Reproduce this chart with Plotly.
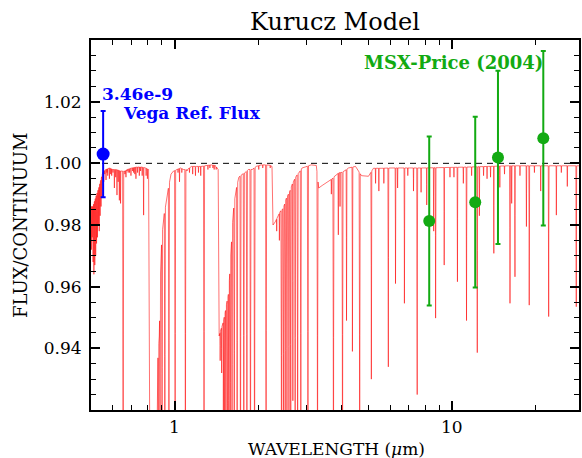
import numpy as np
import plotly.graph_objects as go

# ---------------- data ----------------
# pseudo-continuum of the Kurucz model (wavelength in micron, flux/continuum)
cont_wl = [0.4993, 0.5076, 0.5160, 0.5245, 0.5333, 0.5422, 0.5511, 0.5650, 0.5839, 0.5986,
           0.6137, 0.6265, 0.6396, 0.6641, 0.6753, 0.7006, 0.7303, 0.7612, 0.7866, 0.8063,
           0.8152, 0.8617, 0.8689, 0.8811, 0.8935, 0.9115, 0.9344, 0.9461, 0.9714, 0.9918,
           1.0209, 1.0509, 1.0773, 1.1135, 1.1511, 1.1996, 1.2503, 1.3030, 1.3580, 1.4037,
           1.4366, 1.4486, 1.4691, 1.4936, 1.5186, 1.5440, 1.5620, 1.5789, 1.6000, 1.6267,
           1.6607, 1.7053, 1.7554, 1.7995, 1.8447, 1.9067, 1.9704, 2.0538, 2.1943, 2.2458,
           2.2645, 2.3061, 2.3641, 2.4095, 2.4497, 2.4886, 2.5238, 2.5638, 2.6066, 2.6501,
           2.6965, 2.7506, 2.8127, 2.8834, 2.9560, 3.1075, 3.2439, 3.3090, 3.4034, 3.5176,
           3.6359, 3.7027, 3.7895, 3.8591, 3.9235, 3.9858, 4.1000, 4.2381, 4.4907, 4.7193,
           5.0006, 5.2120, 5.5895, 6.0220, 6.5421, 7.0469, 7.9124, 8.9595, 10.141, 11.482,
           13.548, 15.985, 19.662, 24.175, 29.010]
cont_fx = [0.986, 0.986, 0.988, 0.990, 0.992, 0.9945, 0.997, 0.998, 0.9985, 0.998,
           0.998, 0.9978, 0.9975, 0.9975, 0.998, 0.9985, 0.9988, 0.9988, 0.9985, 0.998,
           0.900, 0.900, 0.935, 0.944, 0.971, 0.982, 0.9875, 0.991, 0.9965, 0.9975,
           0.998, 0.9985, 0.998, 0.998, 0.999, 0.999, 0.999, 0.9993, 0.9995, 0.9993,
           0.998, 0.944, 0.946, 0.948, 0.951, 0.955, 0.957, 0.963, 0.9725, 0.984,
           0.9908, 0.9955, 0.9965, 0.997, 0.998, 0.998, 0.999, 0.9995, 0.9995, 0.999,
           0.980, 0.981, 0.983, 0.9845, 0.985, 0.9865, 0.9885, 0.9897, 0.991, 0.993,
           0.9945, 0.996, 0.997, 0.9985, 0.9988, 0.9995, 0.9993, 0.992, 0.9928, 0.9937,
           0.9945, 0.995, 0.996, 0.9965, 0.997, 0.997, 0.9975, 0.9985, 0.999, 0.996,
           0.9958, 0.9984, 0.9984, 0.9985, 0.9985, 0.9985, 0.9985, 0.9986, 0.9987, 0.9988,
           0.999, 0.9992, 0.9992, 0.9992, 0.9992]

# absorption lines: centre wavelength (micron) and minimum flux/continuum
line_wl = [0.5017, 0.5050, 0.5088, 0.5122, 0.5160, 0.5198, 0.5236, 0.5275, 0.5315, 0.5354,
           0.5394, 0.5435, 0.5475, 0.5557, 0.5604, 0.5664, 0.5707, 0.5745, 0.5826, 0.5888,
           0.5937, 0.6001, 0.6071, 0.6137, 0.6203, 0.6265, 0.6327, 0.6390, 0.6530, 0.6625,
           0.6684, 0.6741, 0.6806, 0.6883, 0.6966, 0.7064, 0.7123, 0.7193, 0.7260, 0.7360,
           0.7467, 0.7545, 0.7646, 0.7738, 0.7900, 0.7985, 0.8746, 0.8869, 0.9017, 0.9229,
           0.9547, 1.0050, 1.0294, 1.0422, 1.0623, 1.0943, 1.1089, 1.1320, 1.1626, 1.1898,
           1.2197, 1.2430, 1.2775, 1.3193, 1.3413, 1.3751, 1.3897, 1.4130, 1.4606, 1.4789,
           1.4999, 1.5161, 1.5325, 1.5530, 1.5698, 1.5882, 1.6120, 1.6416, 1.6815, 1.7295,
           1.7774, 1.8234, 1.8786, 1.9434, 2.0122, 2.0797, 2.1388, 2.2126, 2.3349, 2.3878,
           2.4295, 2.4681, 2.5050, 2.5426, 2.5851, 2.6239, 2.6701, 2.7213, 2.7782, 2.8526,
           3.0262, 3.2763, 3.6751, 3.7396, 3.8944, 3.9494, 4.0320, 4.1685, 4.3774, 4.6495,
           5.1220, 5.3047, 5.4517, 5.6819, 5.8976, 6.2591, 6.3687, 6.7393, 6.9316, 7.2667,
           7.4929, 7.7388, 8.1104, 8.5937, 8.7299, 9.3753, 9.8356, 10.167, 10.466, 10.990,
           11.285, 11.771, 12.338, 12.555, 12.999, 13.381, 13.774, 14.155, 14.876, 15.466,
           16.186, 16.415, 16.869, 17.582, 18.553, 18.988, 19.823, 20.883, 22.315, 23.781,
           24.784, 26.046, 28.058]
line_min = [0.972, 0.976, 0.968, 0.964, 0.967, 0.970, 0.974, 0.976, 0.980, 0.978,
            0.983, 0.986, 0.989, 0.994, 0.9965, 0.9946, 0.997, 0.996, 0.995, 0.9965,
            0.996, 0.997, 0.992, 0.9955, 0.9897, 0.994, 0.988, 0.987, 0.880, 0.9965,
            0.9955, 0.9975, 0.997, 0.997, 0.996, 0.9975, 0.997, 0.9965, 0.995, 0.997,
            0.996, 0.9975, 0.996, 0.9832, 0.996, 0.995, 0.880, 0.880, 0.880, 0.880,
            0.880, 0.880, 0.997, 0.994, 0.997, 0.880, 0.9975, 0.997, 0.9965, 0.996,
            0.997, 0.996, 0.880, 0.998, 0.9985, 0.9985, 0.998, 0.998, 0.936, 0.932,
            0.920, 0.900, 0.880, 0.880, 0.880, 0.880, 0.880, 0.880, 0.880, 0.880,
            0.880, 0.880, 0.880, 0.880, 0.998, 0.9985, 0.880, 0.9985, 0.978, 0.975,
            0.880, 0.880, 0.880, 0.880, 0.880, 0.880, 0.923, 0.880, 0.880, 0.880,
            0.880, 0.880, 0.990, 0.880, 0.9768, 0.986, 0.880, 0.949, 0.939, 0.880,
            0.930, 0.9935, 0.991, 0.9935, 0.934, 0.961, 0.992, 0.9546, 0.996, 0.991,
            0.925, 0.9906, 0.9865, 0.978, 0.9498, 0.967, 0.9955, 0.9955, 0.9616, 0.9935,
            0.949, 0.996, 0.9386, 0.983, 0.996, 0.995, 0.9955, 0.9708, 0.9922, 0.9965,
            0.9546, 0.987, 0.9632, 0.996, 0.9795, 0.954, 0.997, 0.991, 0.9503, 0.9832,
            0.997, 0.9925, 0.9535]

# Vega reference flux point
vega_wl = [0.553]
vega_fx = [1.003]
vega_err = [0.014]

# MSX (Price 2004) points
msx_wl = [8.28, 12.13, 14.65, 21.34]
msx_fx = [0.9813, 0.9874, 1.0019, 1.0081]
msx_err = [0.0274, 0.0277, 0.0281, 0.0283]

ref_level = 1.0
x_limits = [0.5, 28.7]
y_limits = [0.92, 1.04]
x_major = [1, 10]
x_major_text = ["1", "10"]
x_minor = [0.6, 0.7, 0.8, 0.9, 2, 3, 4, 5, 6, 7, 8, 9, 20]
y_major = [0.94, 0.96, 0.98, 1.00, 1.02]
y_major_text = ["0.94", "0.96", "0.98", "1.00", "1.02"]

# ---------------- build the spectrum polyline ----------------
lg_c = np.log10(np.array(cont_wl))
cf = np.array(cont_fx)
lg_l = np.log10(np.array(line_wl))
lm = np.array(line_min)
top = np.interp(lg_l, lg_c, cf)
depth = np.clip(top - lm, 0, 0.1)
hw = 0.0009 + 0.011 * depth

keep = np.ones(len(lg_c), bool)
for c, h in zip(lg_l, hw):
    keep &= np.abs(lg_c - c) > h
pts = list(zip(lg_c[keep], cf[keep]))
offs = [-1.0, -0.35, 0.0, 0.35, 1.0]
frac = [0.0, 0.45, 1.0, 0.45, 0.0]
for c, h, t, m in zip(lg_l, hw, top, lm):
    for o, f in zip(offs, frac):
        lx = c + o * h
        base = float(np.interp(lx, lg_c, cf))
        pts.append((lx, base - f * (t - m)))
pts.sort(key=lambda p: p[0])
spec_x = [10 ** p[0] for p in pts]
spec_y = [p[1] for p in pts]

SERIF = "DejaVu Serif"
BLUE = "#0000ff"
GREEN = "#12aa12"

fig = go.Figure()
fig.add_trace(go.Scatter(x=spec_x, y=spec_y, mode="lines",
                         line=dict(color="rgba(255,0,0,0.8)", width=0.7),
                         hoverinfo="skip", showlegend=False))
fig.add_trace(go.Scatter(x=x_limits, y=[ref_level, ref_level], mode="lines",
                         line=dict(color="black", width=1, dash="6px,5px"),
                         hoverinfo="skip", showlegend=False))
fig.add_trace(go.Scatter(x=vega_wl, y=vega_fx, mode="markers",
                         marker=dict(color=BLUE, size=13),
                         error_y=dict(type="data", array=vega_err, color=BLUE,
                                      thickness=2, width=2.5),
                         showlegend=False))
fig.add_trace(go.Scatter(x=msx_wl, y=msx_fx, mode="markers",
                         marker=dict(color=GREEN, size=12),
                         error_y=dict(type="data", array=msx_err, color=GREEN,
                                      thickness=2, width=2.5),
                         showlegend=False))

axis_common = dict(ticks="inside", ticklen=9, tickwidth=1.5, tickcolor="black",
                   showline=True, linecolor="black", linewidth=2, mirror="allticks",
                   showgrid=False, zeroline=False,
                   tickfont=dict(family=SERIF, size=17, color="black"))

fig.update_xaxes(type="log", range=[np.log10(x_limits[0]), np.log10(x_limits[1])],
                 tickmode="array", tickvals=x_major, ticktext=["", ""],
                 minor=dict(ticks="inside", ticklen=5, tickwidth=1.2, tickcolor="black",
                            tickmode="array", tickvals=x_minor, showgrid=False),
                 **axis_common)
fig.update_yaxes(range=y_limits, tickmode="array", tickvals=y_major, ticktext=y_major_text,
                 minor=dict(ticks="inside", ticklen=5, tickwidth=1.2, tickcolor="black",
                            dtick=0.005, tick0=0.92, showgrid=False),
                 ticklabelstandoff=4, **axis_common)

annotations = [
    dict(text="<b>3.46e-9</b>", x=0.019, y=0.8554, xref="paper", yref="paper",
         xanchor="left", yanchor="middle", showarrow=False,
         font=dict(family=SERIF, size=17, color=BLUE)),
    dict(text="<b>Vega Ref. Flux</b>", x=0.062, y=0.8014, xref="paper", yref="paper",
         xanchor="left", yanchor="middle", showarrow=False,
         font=dict(family=SERIF, size=17, color=BLUE)),
    dict(text="<b>MSX-Price (2004)</b>", x=0.556, y=0.9397, xref="paper", yref="paper",
         xanchor="left", yanchor="middle", showarrow=False,
         font=dict(family=SERIF, size=18, color=GREEN)),
    dict(text="FLUX/CONTINUUM", x=-0.1455, y=0.5, xref="paper", yref="paper",
         xanchor="center", yanchor="middle", textangle=-90, showarrow=False,
         font=dict(family=SERIF, size=18, color="black")),
    dict(text="WAVELENGTH (<i>μ</i>m)", x=0.503, y=-0.1054, xref="paper", yref="paper",
         xanchor="center", yanchor="middle", showarrow=False,
         font=dict(family=SERIF, size=17, color="black")),
]
# x tick labels placed just under the axis
for v, t in zip(x_major, x_major_text):
    annotations.append(dict(text=t, x=np.log10(v), y=-0.0446, xref="x", yref="paper",
                            xanchor="center", yanchor="middle", showarrow=False,
                            font=dict(family=SERIF, size=17, color="black")))

fig.update_layout(
    width=582, height=458,
    margin=dict(l=91, r=1, t=40, b=48),
    paper_bgcolor="white", plot_bgcolor="white",
    title=dict(text="Kurucz Model", x=0.5, xref="paper", xanchor="center",
               y=1 - 21.3 / 458, yref="container", yanchor="middle",
               font=dict(family=SERIF, size=24, color="black")),
    annotations=annotations,
)

fig.write_html("out.html")
